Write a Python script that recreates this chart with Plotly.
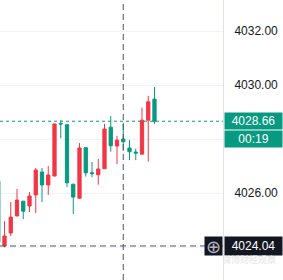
import plotly.graph_objects as go

# Candle data (index, open, high, low, close)
idx   = list(range(26))
opens = [4026.44, 4024.04, 4024.52, 4025.15, 4025.70, 4025.52, 4025.93, 4026.78, 4026.30, 4026.63,
         4028.58, 4028.53, 4026.33, 4025.81, 4027.68, 4026.75, 4026.68, 4026.90, 4028.44, 4027.74,
         4028.00, 4027.67, 4027.52, 4027.44, 4028.70, 4029.48]
highs = [4026.50, 4024.96, 4025.67, 4026.15, 4025.70, 4026.04, 4026.93, 4026.93, 4027.00, 4028.56,
         4028.70, 4028.56, 4026.33, 4027.85, 4027.68, 4027.15, 4027.26, 4028.56, 4028.85, 4028.12,
         4028.60, 4027.96, 4027.65, 4029.16, 4029.60, 4029.93]
lows  = [4024.10, 4023.99, 4024.41, 4025.15, 4025.04, 4025.30, 4025.26, 4025.67, 4025.93, 4026.63,
         4028.03, 4026.22, 4025.22, 4025.78, 4026.61, 4026.59, 4026.31, 4026.90, 4027.53, 4027.07,
         4027.56, 4027.22, 4027.22, 4027.44, 4027.16, 4028.56]
closes= [4024.20, 4024.41, 4025.11, 4025.74, 4025.33, 4025.89, 4026.85, 4026.30, 4026.67, 4028.56,
         4028.56, 4026.38, 4025.85, 4027.67, 4026.75, 4026.72, 4026.89, 4028.37, 4027.75, 4027.96,
         4027.90, 4027.53, 4027.48, 4028.70, 4029.38, 4028.66]

last_price = 4028.66
timer_text = "00:19"
cross_price = 4024.04
cross_idx = 20
y_ticks = [4024, 4026, 4028, 4030, 4032]
# labels at 4024 and 4028 are covered by the price tags in the reference
y_tick_text = ["", "4026.00", "", "4030.00", "4032.00"]

UP = "#f23645"
DOWN = "#089981"

fig = go.Figure()
fig.add_trace(go.Candlestick(
    x=idx, open=opens, high=highs, low=lows, close=closes,
    increasing=dict(line=dict(color=UP, width=1), fillcolor=UP),
    decreasing=dict(line=dict(color=DOWN, width=1), fillcolor=DOWN),
    whiskerwidth=0, hoverinfo="skip", showlegend=False,
))

shapes = [
    dict(type="line", xref="paper", x0=0, x1=1, yref="y", y0=last_price, y1=last_price,
         line=dict(color=DOWN, width=1, dash="dot")),
    dict(type="line", xref="x", x0=cross_idx, x1=cross_idx, yref="paper", y0=0, y1=1,
         line=dict(color="#50535e", width=1, dash="6px,4px")),
    dict(type="line", xref="paper", x0=0, x1=1, yref="y", y0=cross_price, y1=cross_price,
         line=dict(color="#50535e", width=1, dash="6px,4px")),
]

annotations = [
    dict(xref="paper", x=1, xanchor="left", xshift=1, yref="y", y=last_price, yanchor="middle",
         text=f"{last_price:.2f}", showarrow=False, bgcolor=DOWN, width=57, height=16, borderpad=0,
         font=dict(color="white", size=12, family="Liberation Sans")),
    dict(xref="paper", x=1, xanchor="left", xshift=1, yref="y", y=last_price, yanchor="middle",
         yshift=-18, text=timer_text, showarrow=False, bgcolor=DOWN, width=57, height=16, borderpad=0,
         font=dict(color="white", size=12, family="Liberation Sans")),
    dict(xref="paper", x=1, xanchor="left", xshift=1, yref="y", y=cross_price, yanchor="middle",
         text=f"{cross_price:.2f}", showarrow=False, bgcolor="#131722", width=57, height=18, borderpad=0,
         font=dict(color="white", size=12, family="Liberation Sans")),
    dict(xref="paper", x=1, xanchor="right", yref="y", y=cross_price, yanchor="middle",
         text="⊕", showarrow=False, bgcolor="#131722", width=17, height=18, borderpad=0,
         font=dict(color="#b2b5be", size=18, family="DejaVu Sans")),
    dict(xref="paper", x=1, xanchor="right", xshift=55, yref="paper", y=0, yanchor="bottom", yshift=12,
         text="微博财经观察", showarrow=False,
         font=dict(color="#e6e6e6", size=9, family="Noto Sans CJK SC")),
]

fig.update_layout(
    width=283, height=280,
    margin=dict(l=0, r=60, t=0, b=0),
    paper_bgcolor="white", plot_bgcolor="white",
    xaxis=dict(range=[0.28, 35.96], visible=False, rangeslider=dict(visible=False), showgrid=False),
    yaxis=dict(side="right", range=[4022.78, 4033.15], tickvals=y_ticks, ticktext=y_tick_text,
               showgrid=True, gridcolor="#f0f3fa", gridwidth=1, zeroline=False,
               showline=True, linecolor="#e0e3eb", linewidth=1,
               ticks="", ticklabelstandoff=8,
               tickfont=dict(color="#131722", size=12, family="Liberation Sans")),
    shapes=shapes, annotations=annotations,
    hovermode=False, boxgap=0.25,
)

fig.write_html("out.html", config=dict(displayModeBar=False))
